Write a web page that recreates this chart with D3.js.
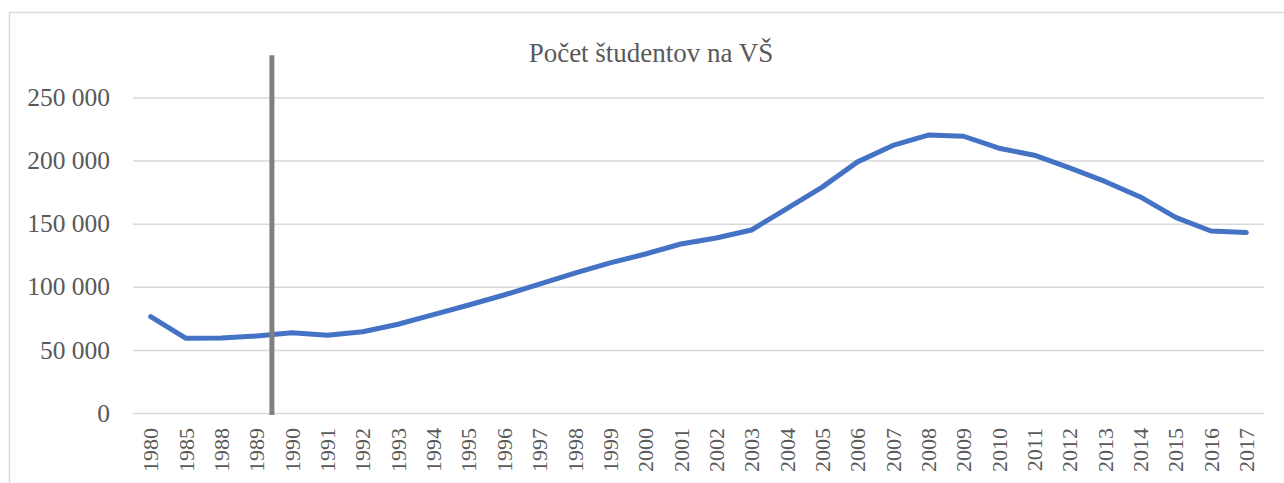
<!DOCTYPE html>
<html>
<head>
<meta charset="utf-8">
<script src="https://cdnjs.cloudflare.com/ajax/libs/d3/7.8.5/d3.min.js"></script>
<style>
  html, body { margin: 0; padding: 0; background: #fff; }
  svg { display: block; }
</style>
</head>
<body>
<div id="chart"></div>
<script>
// data
var years = ["1980", "1985", "1988", "1989", "1990", "1991", "1992", "1993", "1994", "1995",
  "1996", "1997", "1998", "1999", "2000", "2001", "2002", "2003", "2004", "2005", "2006",
  "2007", "2008", "2009", "2010", "2011", "2012", "2013", "2014", "2015", "2016", "2017"];
var students = [76300, 59200, 59400, 61000, 63600, 61600, 64400, 70300, 78000, 85600,
  93500, 102200, 110800, 118900, 126000, 133900, 138700, 145000, 162000, 179000, 199000,
  212000, 220200, 219300, 209800, 204300, 194200, 183500, 171200, 155000, 144200, 143000];
var yTicks = [0, 50000, 100000, 150000, 200000, 250000];
var title = "Počet študentov na VŠ";
// grey separator drawn between 1989 and 1990
var markerYear = "1989";
var markerTop = 283500;

var svgWidth = 1284;
var svgHeight = 483;
var plot = { left: 133, right: 1264, top: 97.5, bottom: 413 };

var svg = d3.select("#chart")
  .append("svg")
  .attr("width", svgWidth)
  .attr("height", svgHeight);

// chart area frame (runs off the right and bottom edge)
svg.append("rect")
  .attr("x", 9.5)
  .attr("y", 12.5)
  .attr("width", svgWidth + 10)
  .attr("height", svgHeight + 10)
  .attr("fill", "#fff")
  .attr("stroke", "#d9d9d9")
  .attr("stroke-width", 1.5);

var x = d3.scaleBand()
  .domain(years)
  .range([plot.left, plot.right])
  .padding(0);

var y = d3.scaleLinear()
  .domain([0, 250000])
  .range([plot.bottom, plot.top]);

var fmt = function(v) { return d3.format(",")(v).replace(/,/g, " "); };

// gridlines + y labels
var yAxis = d3.axisLeft(y)
  .tickValues(yTicks)
  .tickSize(-(plot.right - plot.left))
  .tickPadding(23)
  .tickFormat(fmt);

var gy = svg.append("g")
  .attr("transform", "translate(" + plot.left + ",0)")
  .call(yAxis);
gy.select(".domain").remove();
gy.selectAll(".tick line")
  .attr("stroke", "#d9d9d9")
  .attr("stroke-width", 1.5);
gy.selectAll(".tick text")
  .attr("fill", "#595959")
  .style("font-family", "'Liberation Serif', serif")
  .style("font-size", "25.5px");

// x labels, rotated
var xAxis = d3.axisBottom(x).tickSize(0).tickPadding(0);
var gx = svg.append("g")
  .attr("transform", "translate(0," + plot.bottom + ")")
  .call(xAxis);
gx.select(".domain").remove();
gx.selectAll(".tick text")
  .attr("fill", "#595959")
  .style("font-family", "'Liberation Serif', serif")
  .style("font-size", "22px")
  .attr("text-anchor", "end")
  .attr("transform", "translate(0,15) rotate(-90)")
  .attr("x", 0)
  .attr("y", 0)
  .attr("dy", "0.35em");

// the line
var line = d3.line()
  .x(function(d, i) { return x(years[i]) + x.bandwidth() / 2; })
  .y(function(d) { return y(d); });

svg.append("path")
  .datum(students)
  .attr("fill", "none")
  .attr("stroke", "#4472c4")
  .attr("stroke-width", 5)
  .attr("stroke-linejoin", "round")
  .attr("stroke-linecap", "round")
  .attr("d", line);

// grey vertical separator
var mx = x(markerYear) + x.bandwidth() * 0.93;
svg.append("line")
  .attr("x1", mx)
  .attr("x2", mx)
  .attr("y1", y(markerTop))
  .attr("y2", plot.bottom + 2)
  .attr("stroke", "#808080")
  .attr("stroke-width", 5);

// title
svg.append("text")
  .attr("x", 651)
  .attr("y", 62)
  .attr("text-anchor", "middle")
  .attr("fill", "#595959")
  .style("font-family", "'Liberation Serif', serif")
  .style("font-size", "27px")
  .text(title);
</script>
</body>
</html>
